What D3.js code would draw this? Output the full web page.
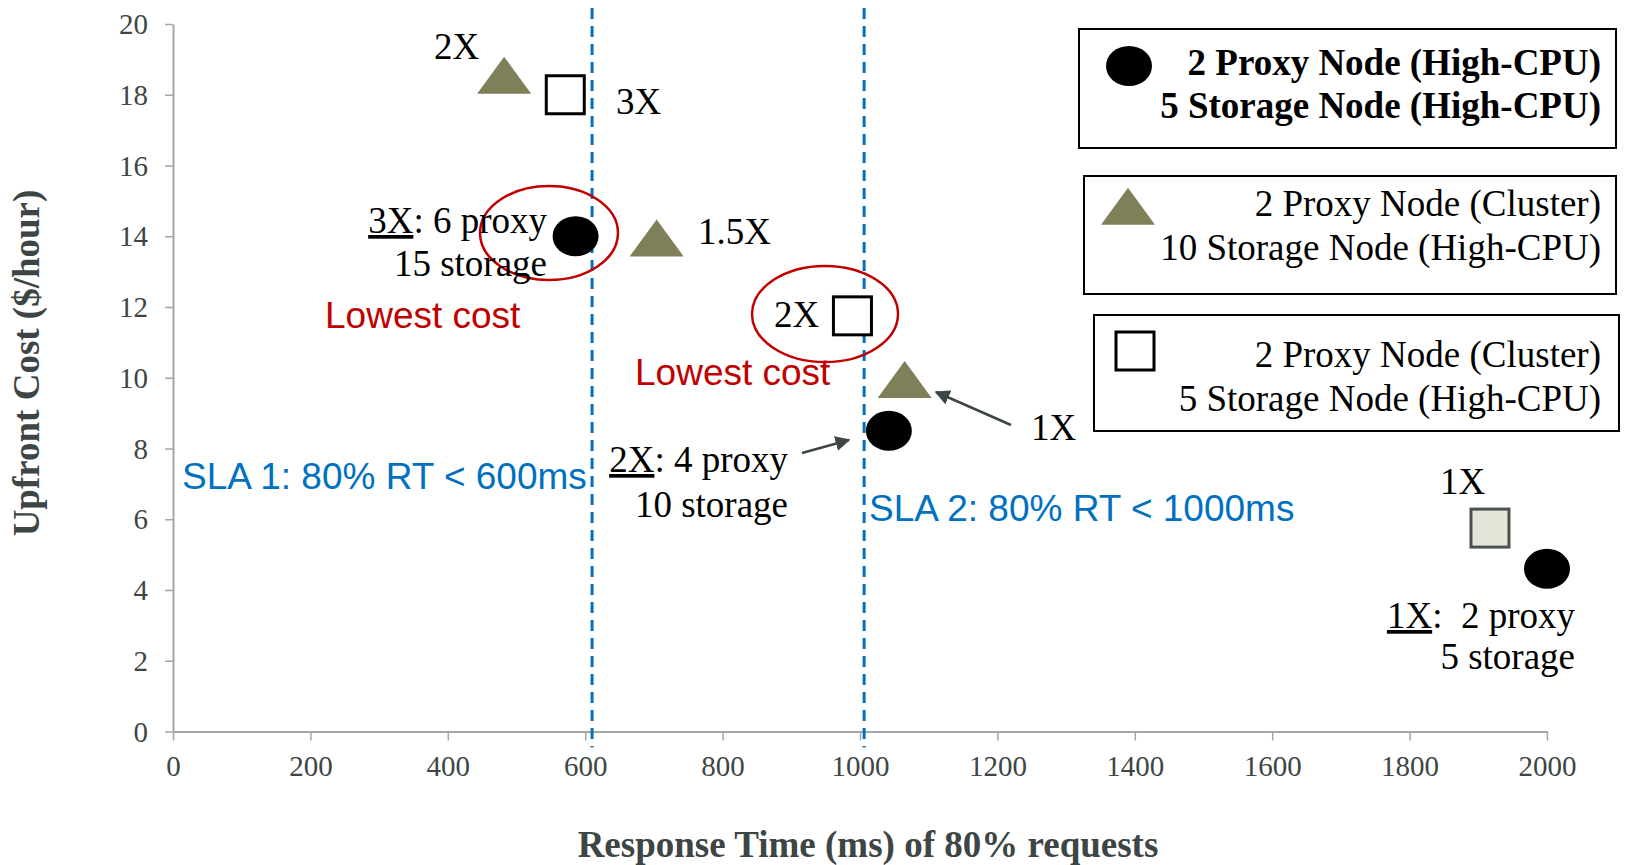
<!DOCTYPE html>
<html><head><meta charset="utf-8">
<script src="https://cdn.jsdelivr.net/npm/d3@7"></script>
<style>body{margin:0;background:#fff}svg{display:block}</style>
</head><body>
<svg id="c" width="1627" height="865"></svg>
<script>
// ---- data ----
const xTicks = [0,200,400,600,800,1000,1200,1400,1600,1800,2000];
const yTicks = [0,2,4,6,8,10,12,14,16,18,20];
// 2 Proxy (High-CPU) + Storage (High-CPU): circles
const rtHighCpu   = [586, 1042, 2000];
const costHighCpu = [14.0, 8.5, 4.6];
// 2 Proxy (Cluster) + 10 Storage (High-CPU): triangles
const rtCluster10   = [482, 704, 1065];
const costCluster10 = [18.5, 13.9, 9.9];
// 2 Proxy (Cluster) + 5 Storage (High-CPU): squares
const rtCluster5   = [571, 989, 1917];
const costCluster5 = [18.0, 11.75, 5.75];
const slaLimits = [610, 1006];
const slaLabels = ["SLA 1: 80% RT < 600ms", "SLA 2: 80% RT < 1000ms"];

const svg = d3.select("#c");
const x = d3.scaleLinear([0,2000],[173,1547]);
const y = d3.scaleLinear([0,20],[731.5,24]);
const serif = "'Liberation Serif','Times New Roman',serif";
const sans = "'Liberation Sans',Arial,sans-serif";
const axisGray = "#a6a6a6", tickText = "#3d4644";

// axes
const gx = svg.append("g").attr("transform",`translate(0,${y(0)})`)
  .call(d3.axisBottom(x).tickValues(xTicks).tickFormat(d3.format("d")).tickSize(9).tickSizeOuter(0).tickPadding(9));
const gy = svg.append("g").attr("transform",`translate(${x(0)},0)`)
  .call(d3.axisLeft(y).tickValues(yTicks).tickFormat(d3.format("d")).tickSize(8).tickSizeOuter(0).tickPadding(17));
[gx,gy].forEach(g=>{
  g.select(".domain").attr("stroke",axisGray).attr("stroke-width",2);
  g.selectAll(".tick line").attr("stroke",axisGray).attr("stroke-width",1.5);
  g.selectAll(".tick text").attr("font-family",serif).attr("font-size",29).attr("fill",tickText);
});
gx.selectAll(".tick text").attr("dy","0.92em");
gy.selectAll(".tick text").attr("dy","0.33em");

// axis titles
svg.append("text").attr("x",868).attr("y",857).attr("text-anchor","middle")
  .attr("font-family",serif).attr("font-weight","bold").attr("font-size",37).attr("fill","#3d4644")
  .text("Response Time (ms) of 80% requests");
svg.append("text").attr("transform","translate(39,363) rotate(-90)").attr("text-anchor","middle")
  .attr("font-family",serif).attr("font-weight","bold").attr("font-size",37).attr("fill","#3d4644")
  .text("Upfront Cost ($/hour)");

// SLA lines
svg.selectAll(".sla").data(slaLimits).join("line")
  .attr("x1",d=>x(d)).attr("x2",d=>x(d)).attr("y1",y(20)-16).attr("y2",y(0)+16)
  .attr("stroke","#0070c0").attr("stroke-width",3).attr("stroke-dasharray","11,7");

// red ellipses
const ell = [[549,233,69,47],[825,314,73,48]];
svg.selectAll(".ell").data(ell).join("ellipse")
  .attr("cx",d=>d[0]).attr("cy",d=>d[1]).attr("rx",d=>d[2]).attr("ry",d=>d[3])
  .attr("fill","none").attr("stroke","#c00000").attr("stroke-width",2.5);

// markers
function triPath(w,h){ return `M0,${-h*0.55}L${w/2},${h*0.45}L${-w/2},${h*0.45}Z`; }
svg.selectAll(".tri").data(d3.zip(rtCluster10,costCluster10)).join("path")
  .attr("d",triPath(54,37)).attr("transform",d=>`translate(${x(d[0])},${y(d[1])})`)
  .attr("fill","#7f7f5a");
svg.selectAll(".sq").data(d3.zip(rtCluster5,costCluster5)).join("rect")
  .attr("x",d=>x(d[0])-19).attr("y",d=>y(d[1])-19).attr("width",38).attr("height",38)
  .attr("fill",(d,i)=>i===2?"#e4e4d8":"#fff").attr("stroke",(d,i)=>i===2?"#4a524f":"#000").attr("stroke-width",3);
svg.selectAll(".circ").data(d3.zip(rtHighCpu,costHighCpu)).join("ellipse")
  .attr("cx",d=>x(d[0])).attr("cy",d=>y(d[1])).attr("rx",23).attr("ry",20).attr("fill","#000");

// annotation text
function txt(s,xx,yy,opt={}){
  const t = svg.append("text").attr("x",xx).attr("y",yy)
    .attr("font-family",opt.font||serif).attr("font-size",opt.size||37)
    .attr("fill",opt.fill||"#000").attr("text-anchor",opt.anchor||"start")
    .attr("font-weight",opt.weight||"normal").style("white-space","pre");
  if(opt.u){ t.append("tspan").attr("text-decoration","underline").text(opt.u); t.append("tspan").text(s); }
  else t.text(s);
  return t;
}
txt("2X",434,59);
txt("3X",616,114);
txt(": 6 proxy",547,233,{anchor:"end",u:"3X"});
txt("15 storage",547,276,{anchor:"end"});
txt("Lowest cost",325,328,{font:sans,fill:"#c00000"});
txt("1.5X",698,244);
txt("2X",774,327);
txt("Lowest cost",635,385,{font:sans,fill:"#c00000"});
txt("1X",1031,440);
txt(": 4 proxy",788,472,{anchor:"end",u:"2X"});
txt("10 storage",788,517,{anchor:"end"});
txt(slaLabels[0],182,489,{font:sans,fill:"#0070c0"});
txt(slaLabels[1],869,521,{font:sans,fill:"#0070c0"});
txt("1X",1440,494);
txt(":  2 proxy",1575,628,{anchor:"end",u:"1X"});
txt("5 storage",1575,669,{anchor:"end"});

// arrows
svg.append("defs").append("marker").attr("id","ah").attr("viewBox","0 0 10 10")
  .attr("refX",9).attr("refY",5).attr("markerWidth",6).attr("markerHeight",6).attr("orient","auto")
  .append("path").attr("d","M0,0L10,5L0,10Z").attr("fill","#3d4644");
[[1011,425,936,392],[802,453,849,440]].forEach(a=>{
  svg.append("line").attr("x1",a[0]).attr("y1",a[1]).attr("x2",a[2]).attr("y2",a[3])
    .attr("stroke","#3d4644").attr("stroke-width",2.5).attr("marker-end","url(#ah)");
});

// legend
const legends = [
  {box:[1079,29,537,119], lines:["2 Proxy Node (High-CPU)","5 Storage Node (High-CPU)"], base:[75,118], weight:"bold", sym:"circle", sx:1129, sy:66},
  {box:[1084,176,532,118], lines:["2 Proxy Node (Cluster)","10 Storage Node (High-CPU)"], base:[216,260], weight:"normal", sym:"tri", sx:1128, sy:208},
  {box:[1094,315,525,116], lines:["2 Proxy Node (Cluster)","5 Storage Node (High-CPU)"], base:[367,411], weight:"normal", sym:"sq", sx:1135, sy:351}
];
legends.forEach(L=>{
  svg.append("rect").attr("x",L.box[0]).attr("y",L.box[1]).attr("width",L.box[2]).attr("height",L.box[3])
    .attr("fill","#fff").attr("stroke","#000").attr("stroke-width",2);
  L.lines.forEach((s,i)=>txt(s,1601,L.base[i],{anchor:"end",weight:L.weight,size:37}));
  if(L.sym==="circle") svg.append("ellipse").attr("cx",L.sx).attr("cy",L.sy).attr("rx",23).attr("ry",20).attr("fill","#000");
  if(L.sym==="tri") svg.append("path").attr("d",triPath(54,37)).attr("transform",`translate(${L.sx},${L.sy})`).attr("fill","#7f7f5a");
  if(L.sym==="sq") svg.append("rect").attr("x",L.sx-19).attr("y",L.sy-19).attr("width",38).attr("height",38)
    .attr("fill","#fff").attr("stroke","#000").attr("stroke-width",3);
});
</script>
</body></html>
